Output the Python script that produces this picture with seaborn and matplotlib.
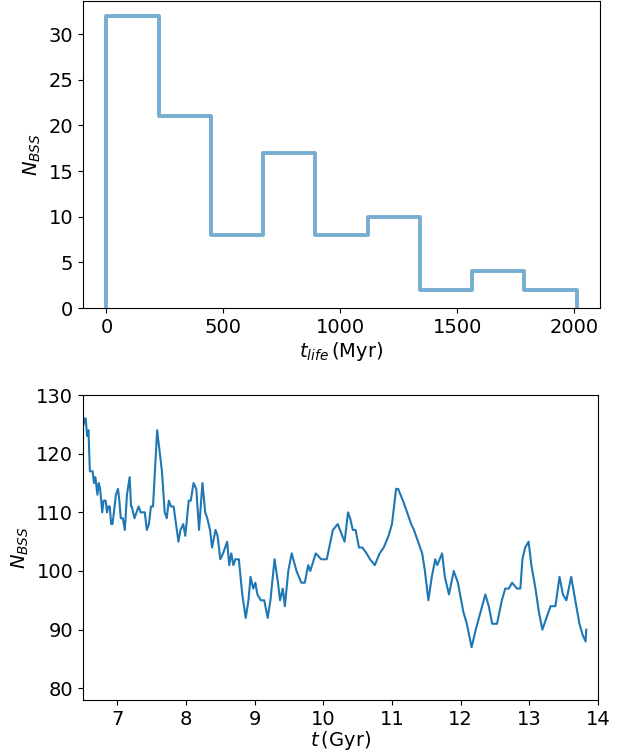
import numpy as np
import matplotlib
matplotlib.use("Agg")
import matplotlib.pyplot as plt
import seaborn as sns
import pandas as pd

# Histograma de tiempos de vida
bin_edges = np.linspace(0, 2010, 10)
counts = [32, 21, 8, 17, 8, 10, 2, 4, 2]

# Evolucion temporal de N_BSS
t_gyr = [6.51, 6.52, 6.54, 6.56, 6.58, 6.60, 6.64, 6.66, 6.68, 6.71, 6.73, 6.75, 6.78, 6.80,
         6.83, 6.85, 6.87, 6.89, 6.91, 6.93, 6.95, 6.98, 7.01, 7.03, 7.05, 7.08, 7.11, 7.14,
         7.18, 7.20, 7.21, 7.25, 7.28, 7.31, 7.34, 7.37, 7.40, 7.43, 7.46, 7.49, 7.52, 7.58,
         7.65, 7.69, 7.72, 7.75, 7.78, 7.82, 7.89, 7.92, 7.96, 7.99, 8.04, 8.07, 8.11, 8.15,
         8.19, 8.24, 8.28, 8.31, 8.35, 8.38, 8.43, 8.46, 8.50, 8.54, 8.57, 8.60, 8.63, 8.66,
         8.69, 8.72, 8.77, 8.82, 8.87, 8.91, 8.94, 8.98, 9.01, 9.04, 9.09, 9.14, 9.19, 9.23,
         9.29, 9.34, 9.37, 9.41, 9.44, 9.49, 9.54, 9.61, 9.68, 9.73, 9.78, 9.81, 9.89, 9.97,
         10.05, 10.14, 10.21, 10.31, 10.36, 10.39, 10.43, 10.47, 10.52, 10.57, 10.63, 10.68,
         10.75, 10.82, 10.88, 10.95, 11.00, 11.06, 11.09, 11.16, 11.22, 11.28, 11.32, 11.38,
         11.44, 11.48, 11.53, 11.58, 11.63, 11.66, 11.73, 11.77, 11.83, 11.90, 11.96, 12.04,
         12.09, 12.16, 12.22, 12.29, 12.36, 12.41, 12.46, 12.53, 12.60, 12.65, 12.70, 12.75,
         12.82, 12.87, 12.90, 12.94, 12.99, 13.03, 13.09, 13.14, 13.19, 13.25, 13.31, 13.38,
         13.44, 13.49, 13.54, 13.61, 13.67, 13.73, 13.78, 13.82, 13.83]
n_bss = [125, 126, 126, 123, 124, 117, 117, 115, 116, 113, 115, 114, 110, 112,
         112, 110, 111, 111, 108, 108, 110, 113, 114, 112, 109, 109, 107, 113,
         116, 111, 111, 109, 110, 111, 110, 110, 110, 107, 108, 111, 111, 124,
         117, 110, 109, 112, 111, 111, 105, 107, 108, 106, 112, 112, 115, 114,
         107, 115, 110, 109, 107, 104, 107, 106, 102, 103, 104, 105, 101, 103,
         101, 102, 102, 96, 92, 95, 99, 97, 98, 96, 95, 95, 92, 95,
         102, 98, 95, 97, 94, 100, 103, 100, 98, 98, 101, 100, 103, 102,
         102, 107, 108, 105, 110, 109, 107, 107, 104, 104, 103, 102,
         101, 103, 104, 106, 108, 114, 114, 112, 110, 108, 107, 105,
         103, 100, 95, 99, 102, 101, 103, 99, 96, 100, 98, 93,
         91, 87, 90, 93, 96, 94, 91, 91, 95, 97, 97, 98,
         97, 97, 102, 104, 105, 101, 97, 93, 90, 92, 94, 94,
         99, 96, 95, 99, 95, 91, 89, 88, 90]

plt.rcParams["font.size"] = 14
fig = plt.figure(figsize=(6.23, 7.52), dpi=100)

# Panel superior: histograma
ax1 = fig.add_axes([0.1332, 0.5904, 0.830, 0.408])
centros = (bin_edges[:-1] + bin_edges[1:]) / 2
df_hist = pd.DataFrame({"tlife": centros, "n": counts})
sns.histplot(data=df_hist, x="tlife", weights="n", bins=list(bin_edges),
             element="step", fill=False, color="tab:blue", alpha=0.6,
             linewidth=2.8, ax=ax1)
# cerrar el escalon hasta cero en los extremos (como histtype="step")
for ln in ax1.lines:
    xs, ys = ln.get_xdata(), ln.get_ydata()
    ln.set_data(np.r_[xs[0], xs, xs[-1]], np.r_[0, ys, 0])
ax1.set_xlim(-100.5, 2110.5)
ax1.set_ylim(0, 33.6)
ax1.set_xticks([0, 500, 1000, 1500, 2000])
ax1.set_yticks([0, 5, 10, 15, 20, 25, 30])
ax1.set_xlabel(r"$t_{life}\,$(Myr)", labelpad=2)
ax1.set_ylabel(r"$N_{BSS}$")

# Panel inferior: N_BSS vs tiempo
ax2 = fig.add_axes([0.1332, 0.0691, 0.8266, 0.4056])
df = pd.DataFrame({"t": t_gyr, "N": n_bss})
sns.lineplot(data=df, x="t", y="N", color="tab:blue", linewidth=1.5, ax=ax2)
ax2.set_xlim(6.5, 14.0)
ax2.set_ylim(78, 130)
ax2.set_xticks([7, 8, 9, 10, 11, 12, 13, 14])
ax2.set_yticks([80, 90, 100, 110, 120, 130])
ax2.set_xlabel(r"$t\,$(Gyr)", labelpad=0)
ax2.set_ylabel(r"$N_{BSS}$")

fig.savefig("out.png", dpi=100)
